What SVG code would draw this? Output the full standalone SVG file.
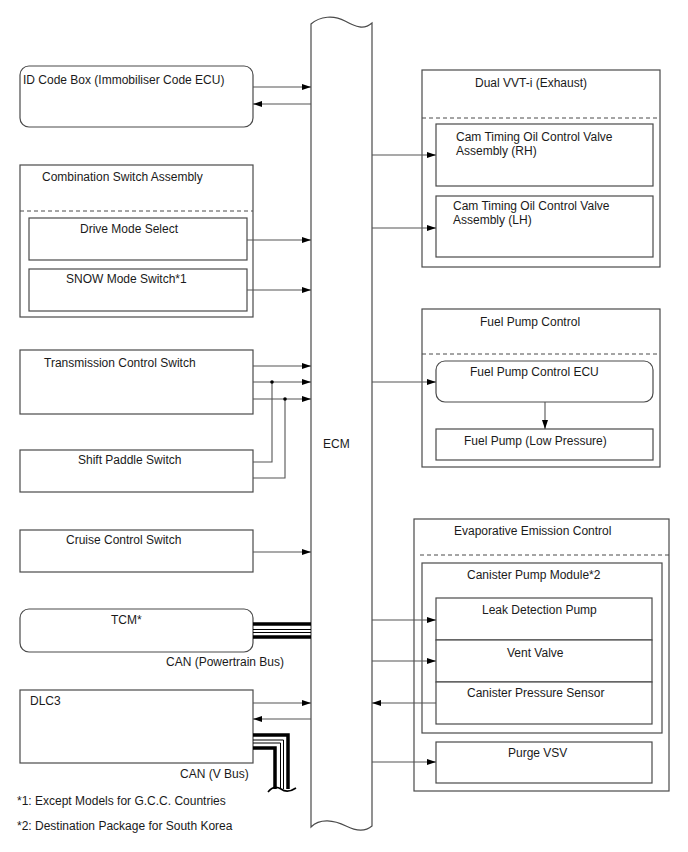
<svg xmlns="http://www.w3.org/2000/svg" width="688" height="852" viewBox="0 0 688 852">
<style>
text{font-family:"Liberation Sans",Arial,sans-serif;font-size:12px;fill:#1a1a1a}
.b{fill:#fff;stroke:#4a4a4a;stroke-width:1.2}
.d{stroke:#4a4a4a;stroke-width:1;stroke-dasharray:4,3;fill:none}
.c{stroke:#555;stroke-width:1.1;fill:none}
.a{stroke:#555;stroke-width:1.1;fill:none;marker-end:url(#ah)}
.tk{stroke:#000;stroke-width:3.5;fill:none}
.tn{stroke:#000;stroke-width:1;fill:none}
</style>
<defs>
<marker id="ah" markerUnits="userSpaceOnUse" markerWidth="10" markerHeight="8" refX="9" refY="3" orient="auto">
<path d="M0,0 L9,3 L0,6 Z" fill="#000"/>
</marker>
</defs>
<rect width="688" height="852" fill="#fff"/>

<g id="ecm">
<path class="b" d="M311,24 C320,16 334,15 345,21 C356,27 364,30 372,23 L372,826 C365,832 356,831 346,826 C334,820 320,818 311,827 Z"/>
<text x="323" y="448">ECM</text>
</g>

<g id="id-code-box">
<rect class="b" x="20" y="66" width="233" height="61" rx="9"/>
<text x="23" y="84">ID Code Box (Immobiliser Code ECU)</text>
</g>

<g id="combination-switch">
<rect class="b" x="20" y="165" width="233" height="152"/>
<text x="42" y="181">Combination Switch Assembly</text>
<line class="d" x1="20" y1="211" x2="253" y2="211"/>
</g>
<g id="drive-mode-select">
<rect class="b" x="29" y="218" width="218" height="42"/>
<text x="80" y="233">Drive Mode Select</text>
</g>
<g id="snow-mode-switch">
<rect class="b" x="29" y="269" width="218" height="42"/>
<text x="66" y="283">SNOW Mode Switch*1</text>
</g>

<g id="transmission-control-switch">
<rect class="b" x="20" y="350" width="233" height="64"/>
<text x="44" y="367">Transmission Control Switch</text>
</g>
<g id="shift-paddle-switch">
<rect class="b" x="20" y="450" width="233" height="42"/>
<text x="78" y="464">Shift Paddle Switch</text>
</g>

<g id="cruise-control-switch">
<rect class="b" x="20" y="530" width="233" height="42"/>
<text x="66" y="544">Cruise Control Switch</text>
</g>

<g id="tcm">
<rect class="b" x="20" y="609" width="233" height="43" rx="9"/>
<text x="111" y="624">TCM*</text>
</g>

<g id="dlc3">
<rect class="b" x="20" y="690" width="233" height="73"/>
<text x="30" y="705">DLC3</text>
</g>

<g id="dual-vvti">
<rect class="b" x="422" y="70" width="238" height="197"/>
<text x="475" y="87">Dual VVT-i (Exhaust)</text>
<line class="d" x1="422" y1="118" x2="660" y2="118"/>
</g>
<g id="cam-rh">
<rect class="b" x="436" y="124" width="217" height="62"/>
<text x="456" y="141">Cam Timing Oil Control Valve</text>
<text x="456" y="155">Assembly (RH)</text>
</g>
<g id="cam-lh">
<rect class="b" x="436" y="196" width="217" height="61"/>
<text x="453" y="210">Cam Timing Oil Control Valve</text>
<text x="453" y="224">Assembly (LH)</text>
</g>

<g id="fuel-pump-control">
<rect class="b" x="422" y="309" width="238" height="158"/>
<text x="480" y="326">Fuel Pump Control</text>
<line class="d" x1="422" y1="354" x2="660" y2="354"/>
</g>
<g id="fuel-pump-ecu">
<rect class="b" x="436" y="361" width="217" height="41" rx="9"/>
<text x="470" y="376">Fuel Pump Control ECU</text>
</g>
<g id="fuel-pump">
<rect class="b" x="436" y="429" width="217" height="31"/>
<text x="464" y="445">Fuel Pump (Low Pressure)</text>
</g>

<g id="evap">
<rect class="b" x="414" y="519" width="255" height="272"/>
<text x="454" y="535">Evaporative Emission Control</text>
<line class="d" x1="420" y1="555" x2="669" y2="555"/>
</g>
<g id="canister-pump-module">
<rect class="b" x="422" y="563" width="240" height="170"/>
<text x="467" y="579">Canister Pump Module*2</text>
</g>
<g id="leak-detection-pump">
<rect class="b" x="436" y="598" width="216" height="42"/>
<text x="482" y="614">Leak Detection Pump</text>
</g>
<g id="vent-valve">
<rect class="b" x="436" y="640" width="216" height="42"/>
<text x="507" y="657">Vent Valve</text>
</g>
<g id="canister-pressure-sensor">
<rect class="b" x="436" y="682" width="216" height="42"/>
<text x="467" y="697">Canister Pressure Sensor</text>
</g>
<g id="purge-vsv">
<rect class="b" x="436" y="742" width="216" height="41"/>
<text x="508" y="757">Purge VSV</text>
</g>

<g id="connectors">
<line class="a" x1="253" y1="87" x2="311" y2="87"/>
<line class="a" x1="311" y1="104" x2="253" y2="104"/>
<line class="a" x1="247" y1="240" x2="311" y2="240"/>
<line class="a" x1="247" y1="290" x2="311" y2="290"/>
<line class="a" x1="253" y1="366" x2="311" y2="366"/>
<line class="a" x1="253" y1="382" x2="311" y2="382"/>
<line class="a" x1="253" y1="399" x2="311" y2="399"/>
<polyline class="c" points="272,382 272,462 253,462"/>
<polyline class="c" points="285,399 285,478 253,478"/>
<circle cx="272" cy="382" r="1.8" fill="#000"/>
<circle cx="285" cy="399" r="1.8" fill="#000"/>
<line class="a" x1="253" y1="552" x2="311" y2="552"/>
<line class="tk" x1="253" y1="624" x2="311" y2="624"/>
<line class="tn" x1="253" y1="629.5" x2="311" y2="629.5"/>
<line class="tn" x1="253" y1="632.5" x2="311" y2="632.5"/>
<line class="tk" x1="253" y1="637" x2="311" y2="637"/>
<line class="a" x1="253" y1="703" x2="311" y2="703"/>
<line class="a" x1="311" y1="719" x2="253" y2="719"/>
<polyline class="tk" points="253,735 288,735 288,789"/>
<polyline class="tn" points="253,740 283.5,740 283.5,789"/>
<polyline class="tn" points="253,743 280.5,743 280.5,789"/>
<polyline class="tk" points="253,748 275,748 275,789"/>
<path d="M268,792 C272,787 276,786 281,789 C285,792 290,792 296,788" fill="none" stroke="#000" stroke-width="1.6"/>
<line class="a" x1="372" y1="155" x2="436" y2="155"/>
<line class="a" x1="372" y1="228" x2="436" y2="228"/>
<line class="a" x1="372" y1="382" x2="436" y2="382"/>
<line class="a" x1="545" y1="402" x2="545" y2="429"/>
<line class="a" x1="372" y1="620" x2="436" y2="620"/>
<line class="a" x1="372" y1="661" x2="436" y2="661"/>
<line class="a" x1="436" y1="703" x2="372" y2="703"/>
<line class="a" x1="372" y1="762" x2="436" y2="762"/>
</g>

<text x="166" y="666">CAN (Powertrain Bus)</text>
<text x="180" y="778">CAN (V Bus)</text>
<text x="17" y="805">*1: Except Models for G.C.C. Countries</text>
<text x="17" y="830">*2: Destination Package for South Korea</text>
</svg>
